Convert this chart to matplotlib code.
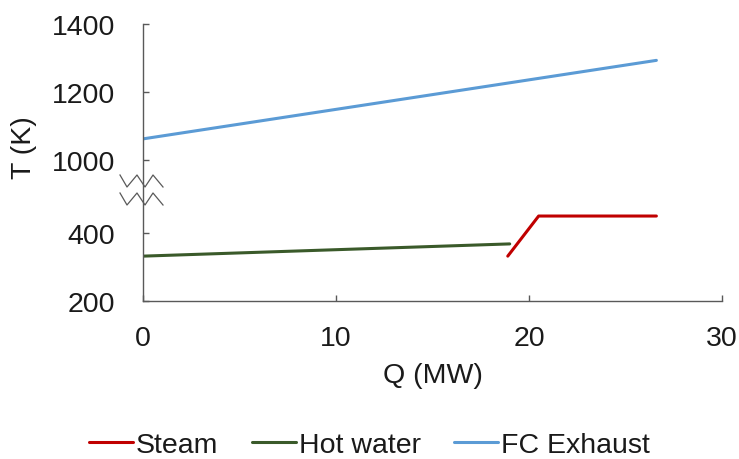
import matplotlib
matplotlib.use("Agg")
import matplotlib.pyplot as plt

# values (Q in MW, T in K)
q_steam = [18.9, 20.5, 26.6]
t_steam = [332, 450, 450]
q_water = [0, 19.0]
t_water = [332, 368]
q_exhaust = [0, 26.6]
t_exhaust = [1062, 1293]

y_tick_values = [200, 400, 1000, 1200, 1400]
x_tick_values = [0, 10, 20, 30]

BREAK_OFFSET = 385  # the axis skips from ~500 K to ~885 K


def to_axis(t):
    # map a temperature onto the broken axis
    return t - BREAK_OFFSET if t > 700 else t


plt.rcParams['font.family'] = ['Liberation Sans', 'DejaVu Sans']
FS = 20.5
AX_COLOR = '#595959'
TXT_COLOR = '#1a1a1a'

fig = plt.figure(figsize=(7.39, 4.60), dpi=100)
ax = fig.add_axes([143 / 739, 1 - 302 / 460, (722 - 143) / 739, (302 - 25) / 460])

ax.plot(q_steam, [to_axis(t) for t in t_steam], color='#C00000', lw=2.2,
        solid_capstyle='round', solid_joinstyle='round', label='Steam')
ax.plot(q_water, [to_axis(t) for t in t_water], color='#3A5A2A', lw=2.2,
        solid_capstyle='round', label='Hot water')
ax.plot(q_exhaust, [to_axis(t) for t in t_exhaust], color='#5B9BD5', lw=2.2,
        solid_capstyle='round', label='FC Exhaust')

ax.set_xlim(0, 30)
ax.set_ylim(200, to_axis(1400))
ax.set_xticks(x_tick_values)
ax.set_yticks([to_axis(v) for v in y_tick_values])
ax.set_yticklabels([str(v) for v in y_tick_values])

for s in ['top', 'right']:
    ax.spines[s].set_visible(False)
for s in ['left', 'bottom']:
    ax.spines[s].set_color(AX_COLOR)
    ax.spines[s].set_linewidth(1.0)

ax.tick_params(axis='both', direction='in', length=4.5, width=1.0,
               color=AX_COLOR, labelsize=FS, labelcolor=TXT_COLOR)
ax.tick_params(axis='y', pad=20)
ax.tick_params(axis='x', pad=17)

ax.set_xlabel('Q (MW)', fontsize=FS, color=TXT_COLOR)
ax.set_ylabel('T (K)', fontsize=FS, color=TXT_COLOR)
ax.xaxis.set_label_coords(0.5, -0.222)
ax.yaxis.set_label_coords(-0.183, 0.556)

# zigzag break marks on the y axis (figure pixel positions)
zig_x = [120, 127, 137, 145, 153, 163]
zig_y = [0, 12, 0, 12, 0, 12]
for y0 in [176, 194]:
    ax.plot([x / 739 for x in zig_x], [1 - (y0 + dy) / 460 for dy in zig_y],
            color=AX_COLOR, lw=0.9, transform=fig.transFigure, clip_on=False)

fig.legend(loc='center', bbox_to_anchor=(0.5, 0.03), ncol=3, frameon=False,
           fontsize=FS, handlelength=1.55, handletextpad=0.1,
           columnspacing=1.17, labelcolor=TXT_COLOR)

fig.savefig('out.png', dpi=100)
